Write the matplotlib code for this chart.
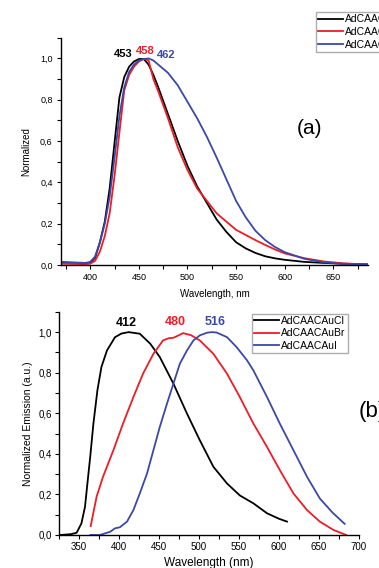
import matplotlib
matplotlib.use("Agg")
import matplotlib.pyplot as plt
from matplotlib.ticker import MultipleLocator, FuncFormatter

plt.rcParams['font.family'] = ['Liberation Sans', 'DejaVu Sans']

#
# Panel (a) - normalized spectra
#
wl_a = [370, 395, 400, 405, 410, 415, 420, 425, 430, 435, 440, 445, 450, 455,
        460, 465, 470, 480, 490, 500, 510, 520, 530, 540, 550, 560, 570, 580,
        590, 600, 620, 640, 660, 686]
cl_a = [0.012, 0.008, 0.010, 0.035, 0.11, 0.21, 0.37, 0.59, 0.81, 0.91, 0.96, 0.985,
        0.997, 0.998, 0.97, 0.92, 0.86, 0.73, 0.60, 0.48, 0.38, 0.30, 0.22, 0.16,
        0.11, 0.08, 0.058, 0.042, 0.032, 0.025, 0.015, 0.010, 0.006, 0.003]
br_a = [0.006, 0.004, 0.006, 0.020, 0.065, 0.14, 0.25, 0.43, 0.64, 0.845, 0.92, 0.96,
        0.985, 0.998, 0.99, 0.90, 0.84, 0.71, 0.57, 0.46, 0.37, 0.31, 0.25, 0.21,
        0.17, 0.145, 0.12, 0.097, 0.075, 0.056, 0.033, 0.017, 0.008, 0.002]
i_a = [0.015, 0.010, 0.015, 0.040, 0.11, 0.20, 0.33, 0.52, 0.72, 0.86, 0.935, 0.97,
       0.99, 0.997, 1.0, 0.99, 0.97, 0.93, 0.87, 0.79, 0.71, 0.62, 0.52, 0.415,
       0.31, 0.23, 0.165, 0.12, 0.087, 0.062, 0.030, 0.013, 0.005, 0.001]

#
# Panel (b) - normalized emission
#
wl_cl_b = [326, 340, 347, 353, 357.5, 360.5, 364, 368, 373, 378, 385, 395, 403, 412,
           426, 439, 451, 468, 485, 501, 518, 535, 551, 568, 585, 600, 610]
cl_b = [0.0, 0.004, 0.011, 0.057, 0.139, 0.254, 0.385, 0.549, 0.713, 0.828, 0.91,
        0.975, 0.993, 1.0, 0.992, 0.943, 0.877, 0.746, 0.598, 0.467, 0.336, 0.254,
        0.195, 0.156, 0.107, 0.08, 0.066]
wl_br_b = [364.6, 372, 380, 393, 405, 418, 430, 443, 455, 462, 468, 475, 480, 490,
           501, 518, 535, 551, 568, 585, 601, 618, 635, 651, 668, 684]
br_b = [0.044, 0.189, 0.287, 0.418, 0.549, 0.68, 0.795, 0.893, 0.959, 0.97, 0.972,
        0.985, 0.995, 0.985, 0.959, 0.893, 0.795, 0.68, 0.549, 0.434, 0.32, 0.205,
        0.123, 0.066, 0.025, 0.0]
wl_i_b = [364, 376, 389, 395, 401, 410, 418, 426, 435, 443, 451, 460, 468, 476, 485,
          493, 501, 510, 516, 522, 535, 547, 560, 568, 585, 601, 618, 635, 651, 667, 682]
i_b = [0.0, 0.0, 0.016, 0.033, 0.038, 0.066, 0.123, 0.205, 0.303, 0.418, 0.533,
       0.648, 0.746, 0.844, 0.91, 0.959, 0.984, 0.997, 1.0, 0.998, 0.975, 0.926,
       0.861, 0.811, 0.68, 0.549, 0.418, 0.287, 0.18, 0.11, 0.055]

names = ["AdCAACAuCl", "AdCAACAuBr", "AdCAACAuI"]
peaks_a = ["453", "458", "462"]
peaks_b = ["412", "480", "516"]

colors = ["black", "#ee1c24", "#3b48a8"]

comma = FuncFormatter(lambda v, p: ("%.1f" % v).replace(".", ","))

fig = plt.figure(figsize=(3.79, 5.68), dpi=100)

ax1 = fig.add_axes([0.161, 0.5335, 0.811, 0.400])
ax2 = fig.add_axes([0.1557, 0.0581, 0.7916, 0.3929])

for ax in (ax1, ax2):
    ax.spines['top'].set_visible(False)
    ax.spines['right'].set_visible(False)
    ax.spines['left'].set_linewidth(1.0)
    ax.spines['bottom'].set_linewidth(1.0)
    ax.set_ylim(0, 1.1)
    ax.yaxis.set_major_locator(MultipleLocator(0.2))
    ax.yaxis.set_minor_locator(MultipleLocator(0.1))
    ax.yaxis.set_major_formatter(comma)
    ax.xaxis.set_major_locator(MultipleLocator(50))
    ax.xaxis.set_minor_locator(MultipleLocator(25))
    ax.tick_params(which='both', direction='out', length=3, width=0.8)

# top panel
lines = []
for y, c in zip([cl_a, br_a, i_a], colors):
    ln, = ax1.plot(wl_a, y, color=c, lw=1.3)
    lines.append(ln)
ax1.set_xlim(370, 686)
ax1.tick_params(labelsize=6.5, pad=3)
ax1.set_xlabel("Wavelength, nm", fontsize=7, labelpad=5)
ax1.set_ylabel("Normalized", fontsize=7, labelpad=6)

label_pos_a = [(434, 1.02), (456.3, 1.037), (478, 1.016)]
for txt, (x, y), c in zip(peaks_a, label_pos_a, colors):
    ax1.text(x, y, txt, color=c, fontsize=8, fontweight='bold', ha='center', va='center')

ax1.text(310 / 379, 1 - 128 / 568, "(a)", transform=fig.transFigure,
         fontsize=15, ha='center', va='center')

fig.legend(lines, names, loc='upper left', bbox_to_anchor=(315.7 / 379, 1 - 12.3 / 568),
           fontsize=7.5, frameon=True, fancybox=False, edgecolor='#999999',
           borderpad=0.2, labelspacing=0.25, handlelength=2.4, handletextpad=0.2,
           borderaxespad=0)

# bottom panel
lines_b = []
for x, y, c in zip([wl_cl_b, wl_br_b, wl_i_b], [cl_b, br_b, i_b], colors):
    ln, = ax2.plot(x, y, color=c, lw=1.3)
    lines_b.append(ln)
ax2.set_xlim(325, 700)
ax2.tick_params(labelsize=7, pad=2)
ax2.set_xlabel("Wavelength (nm)", fontsize=8.5, labelpad=4)
ax2.set_ylabel("Normalized Emission (a.u.)", fontsize=7.5, labelpad=4)

label_pos_b = [(409.6, 1.046), (470.8, 1.05), (520, 1.05)]
for txt, (x, y), c in zip(peaks_b, label_pos_b, colors):
    ax2.text(x, y, txt, color=c, fontsize=9, fontweight='bold', ha='center', va='center')

ax2.text(372 / 379, 1 - 412 / 568, "(b)", transform=fig.transFigure,
         fontsize=16, ha='center', va='center')

ax2.legend(lines_b, names, loc='upper left', bbox_to_anchor=(252 / 379, 1 - 313.5 / 568),
           bbox_transform=fig.transFigure,
           fontsize=7.5, frameon=True, fancybox=False, edgecolor='#999999',
           borderpad=0.2, labelspacing=0.25, handlelength=2.4, handletextpad=0.2,
           borderaxespad=0)

fig.savefig("out.png", dpi=100, facecolor='white')
